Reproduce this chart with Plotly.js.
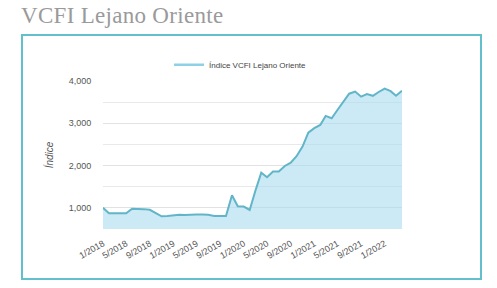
<!DOCTYPE html>
<html>
<head>
<meta charset="utf-8">
<script src="https://cdn.plot.ly/plotly-3.0.1.min.js"></script>
<style>
  html, body { margin: 0; padding: 0; background: #ffffff; width: 497px; height: 288px; overflow: hidden; }
  #title { position: absolute; left: 21px; top: 3px; font-family: "Liberation Serif", serif; font-size: 23px; color: #9a9a9a; letter-spacing: 0.3px; }
  #frame { position: absolute; left: 21px; top: 34px; width: 457px; height: 242px; border: 2px solid #62bfcc; }
  #chart { position: absolute; left: 0; top: 0; width: 457px; height: 242px; }
</style>
</head>
<body>
<div id="title">VCFI Lejano Oriente</div>
<div id="frame"><div id="chart"></div></div>
<script>
// Monthly dates, 1/2018 .. 4/2022
const months = [
  '2018-01','2018-02','2018-03','2018-04','2018-05','2018-06','2018-07','2018-08','2018-09','2018-10','2018-11','2018-12',
  '2019-01','2019-02','2019-03','2019-04','2019-05','2019-06','2019-07','2019-08','2019-09','2019-10','2019-11','2019-12',
  '2020-01','2020-02','2020-03','2020-04','2020-05','2020-06','2020-07','2020-08','2020-09','2020-10','2020-11','2020-12',
  '2021-01','2021-02','2021-03','2021-04','2021-05','2021-06','2021-07','2021-08','2021-09','2021-10','2021-11','2021-12',
  '2022-01','2022-02','2022-03','2022-04'
];
const vcfiValues = [
  1000, 875, 870, 875, 870, 980, 980, 970, 955, 870, 800, 805,
  820, 835, 830, 840, 845, 840, 835, 810, 805, 805, 1300, 1040,
  1030, 950, 1400, 1830, 1725, 1860, 1860, 1990, 2070, 2220, 2450, 2780,
  2885, 2960, 3175, 3120, 3315, 3500, 3700, 3750, 3630, 3690, 3650, 3740,
  3820, 3760, 3650, 3770
];
const seriesName = 'Índice VCFI Lejano Oriente';

const lineColor = '#62b5c8';
const fillColor = 'rgba(168,220,238,0.6)';

const traces = [
  {
    x: months, y: vcfiValues, type: 'scatter', mode: 'lines',
    line: { color: lineColor, width: 2 },
    fill: 'tozeroy', fillcolor: fillColor,
    showlegend: false, hoverinfo: 'x+y'
  },
  {
    x: [null], y: [null], type: 'scatter', mode: 'lines',
    name: seriesName, line: { color: '#8fd0e6', width: 2.5 }, showlegend: true
  }
];

const layout = {
  width: 457, height: 242,
  margin: { l: 80, r: 78, t: 45, b: 49 },
  paper_bgcolor: '#ffffff', plot_bgcolor: '#ffffff',
  font: { family: '"Liberation Sans", Arial, sans-serif', size: 9, color: '#555555' },
  showlegend: true,
  legend: {
    orientation: 'h', x: 0.46, xanchor: 'center', y: 1.11, yanchor: 'middle',
    font: { size: 8, color: '#444444' }, itemwidth: 30, bgcolor: 'rgba(0,0,0,0)'
  },
  xaxis: {
    type: 'date', range: ['2018-01-01', '2022-04-01'],
    tick0: '2018-01-01', dtick: 'M4', tickformat: '%-m/%Y', tickangle: -30,
    showgrid: false, zeroline: false, showline: false,
    ticks: 'outside', ticklen: 5, tickcolor: 'rgba(0,0,0,0)',
    tickfont: { size: 9, color: '#555555' }, fixedrange: true
  },
  yaxis: {
    range: [500, 4000], tick0: 0, dtick: 1000, tickformat: ',d',
    showgrid: true, gridcolor: '#e2e2e2', gridwidth: 1,
    minor: { dtick: 500, tick0: 0, showgrid: true, gridcolor: '#e9e9e9', gridwidth: 1, ticks: '' },
    zeroline: false, showline: false,
    ticks: 'outside', ticklen: 9, tickcolor: 'rgba(0,0,0,0)',
    tickfont: { size: 9, color: '#555555' },
    title: { text: 'Índice', font: { size: 10, color: '#555555', style: 'italic' }, standoff: 13 },
    fixedrange: true
  }
};

Plotly.newPlot('chart', traces, layout, { displayModeBar: false, staticPlot: true });
</script>
</body>
</html>
